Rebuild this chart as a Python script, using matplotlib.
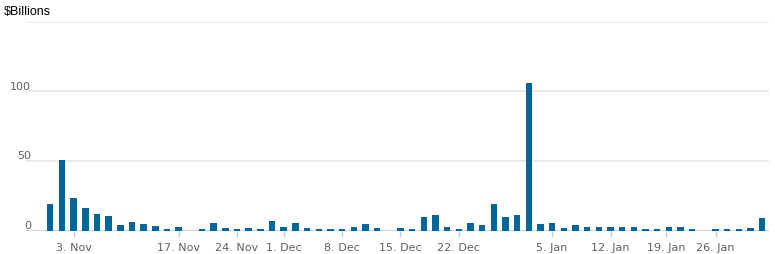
import numpy as np
import pandas as pd
import matplotlib
matplotlib.use("Agg")
import matplotlib.pyplot as plt
import matplotlib.transforms as mtransforms

# ---- data ----
holidays = ["2014-11-11", "2014-11-27", "2014-12-25", "2015-01-01", "2015-01-19"]
dates = [d for d in pd.bdate_range("2014-10-30", "2015-01-30")
         if d.strftime("%Y-%m-%d") not in holidays]

values = [19, 51, 23.5, 16.3, 12.2, 10.4, 4.4, 6.5, 5.0, 3.4,
          1.1, 2.6, 0, 1.1, 6.0, 2.2, 1.1, 2.2, 1.7, 7.4,
          2.9, 5.5, 2.2, 1.7, 1.2, 1.7, 2.9, 5.0, 2.2, 0,
          2.2, 1.2, 9.9, 11.3, 2.9, 1.2, 5.5, 4.1, 19.5, 9.9,
          11.5, 105.8, 5.3, 6.0, 2.2, 4.1, 2.9, 2.9, 2.9, 2.9,
          2.9, 1.7, 1.2, 2.9, 2.9, 1.7, 0, 1.2, 1.2, 1.2,
          2.2, 9.2]

tick_dates = ["2014-11-03", "2014-11-17", "2014-11-24", "2014-12-01",
              "2014-12-08", "2014-12-15", "2014-12-22", "2015-01-05",
              "2015-01-12", "2015-01-19", "2015-01-26"]
tick_labels = ["3. Nov", "17. Nov", "24. Nov", "1. Dec", "8. Dec", "15. Dec",
               "22. Dec", "5. Jan", "12. Jan", "19. Jan", "26. Jan"]

y_ticks = [0, 50, 100]
y_grid = [50, 100, 150]
title = "$Billions"

# ---- figure ----
W, H = 775, 255
fig = plt.figure(figsize=(W / 100, H / 100), dpi=100)
left_px, right_px, top_px, bot_px = 26, 769, 22.7, 232
ax = fig.add_axes([left_px / W, 1 - bot_px / H,
                   (right_px - left_px) / W, (bot_px - top_px) / H])

idx = np.arange(len(dates))
date_num = np.array([d.value for d in dates], dtype=float)
tick_pos = np.interp([pd.Timestamp(t).value for t in tick_dates], date_num, idx)

bar_color = "#02669B"
ax.bar(idx, values, width=0.55, color=bar_color, linewidth=0, zorder=3)

ax.set_xlim(-2.08, 61.58)
ax.set_ylim(0, 150)

for s in ax.spines.values():
    s.set_visible(False)

for g in y_grid:
    ax.axhline(g, color="#E9E9E9", lw=1.3, zorder=1)
ax.axhline(0, color="#C0D0E0", lw=1.3, zorder=2)

ax.set_yticks([])
ax.set_xticks(tick_pos)
ax.set_xticklabels(tick_labels, fontsize=8, color="#606060", family="DejaVu Sans")
ax.tick_params(axis="x", length=4.5, width=1, color="#C0D0E0", pad=3.5)

trans = mtransforms.blended_transform_factory(fig.transFigure, ax.transData)
for v in y_ticks:
    ax.text(31 / W, v + 0.6, str(v), transform=trans, ha="right", va="bottom",
            fontsize=8, color="#606060", family="DejaVu Sans")

fig.text(4 / W, 1 - 12.5 / H, title, ha="left", va="center", fontsize=9,
         color="#000000", family="Liberation Sans")

fig.savefig("out.png", dpi=100, facecolor="white")
